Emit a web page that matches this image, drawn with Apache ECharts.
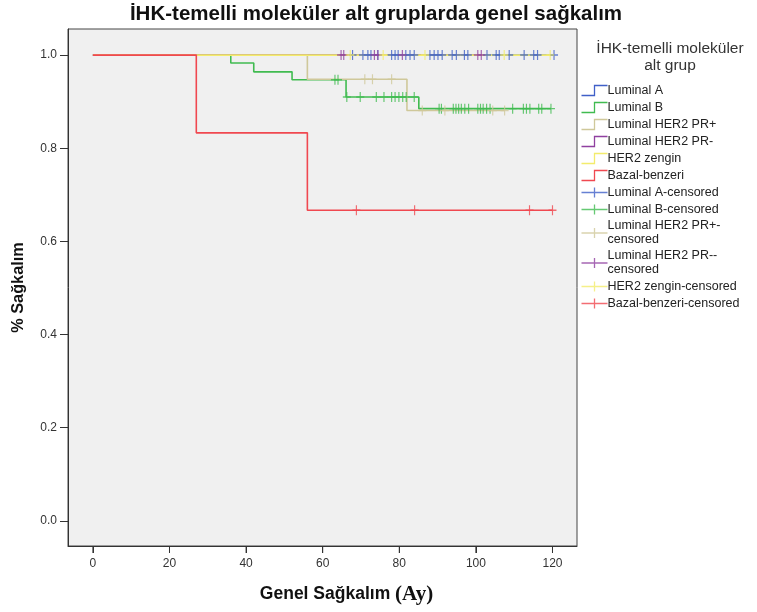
<!DOCTYPE html>
<html>
<head>
<meta charset="utf-8">
<script src="https://cdn.jsdelivr.net/npm/echarts@6/dist/echarts.min.js"></script>
<style>html,body{margin:0;padding:0;background:#fff;}#c{width:757px;height:612px;}</style>
</head>
<body>
<div id="c"></div>
<script>
// ---- data ----
const groups = ['Luminal A','Luminal B','Luminal HER2 PR+','Luminal HER2 PR-','HER2 zengin','Bazal-benzeri'];
const censoredNames = ['Luminal A-censored','Luminal B-censored','Luminal HER2 PR+-\ncensored','Luminal HER2 PR--\ncensored','HER2 zengin-censored','Bazal-benzeri-censored'];
const colors = ['#4060c8','#40bb50','#cfc89a','#9040a0','#f3ec6c','#f04850'];
const xTicks = [0,20,40,60,80,100,120];
const yTicks = [0,0.2,0.4,0.6,0.8,1.0];

// Kaplan-Meier step curves: [time (months), survival]
const curveLumA  = [[0,1],[120.4,1]];
const curveLumB  = [[0,1],[36,0.983],[42,0.964],[52,0.947],[66.1,0.910],[85.1,0.885],[119.6,0.885]];
const curvePRpos = [[0,1],[56,0.948],[82,0.881],[107.5,0.881]];
const curvePRneg = [[0,1],[101.4,1]];
const curveHER2  = [[0,1],[119.4,1]];
const curveBazal = [[0,1],[27,0.833],[56,0.667],[120,0.667]];

// censored times (months)
const censLumA  = [67.8,70.5,71.8,72.6,74.4,78.0,78.9,79.7,81.7,82.8,83.9,88.0,89.1,90.1,91.2,93.8,94.9,97.0,97.9,102.9,105.3,106.1,108.7,112.6,115.1,116.1,120.4];
const censLumB  = [63.2,64.0,66.3,69.8,74.0,76.0,78.0,78.9,79.9,80.9,81.8,83.9,90.4,91.0,94.1,94.8,95.5,96.2,97.1,98.1,100.5,101.2,101.9,102.8,103.7,109.6,112.4,113.2,114.1,116.4,117.2,119.6];
const censPRpos = [71.0,73.0,78.0,86.0,91.9,104.4,107.5];
const censPRneg = [64.8,65.5,73.5,74.4,80.8,100.5,101.4];
const censHER2  = [67.2,75.8,86.7,107.4,119.4];
const censBazal = [68.8,84.0,114.0,120.0];

const curves = [curveLumA,curveLumB,curvePRpos,curvePRneg,curveHER2,curveBazal];
const censored = [censLumA,censLumB,censPRpos,censPRneg,censHER2,censBazal];

const X_MIN = -6.5, X_MAX = 126.4, Y_MIN = -0.054, Y_MAX = 1.056;

function survAt(curve, t){
  let s = curve[0][1];
  for (const p of curve){ if (p[0] <= t) s = p[1]; }
  return s;
}

const stepIcon = 'path://M0,8L13,8L13,1L26,1';
const crossIcon = 'path://M0,5L26,5M13,0L13,10';
const crossSym = 'path://M0,5L10,5M5,0L5,10';
const FONT = 'Liberation Sans, Arial, sans-serif';

const series = [];
groups.forEach((g,i)=>{
  series.push({
    name: g, type: 'line', step: 'end', symbol: 'none', data: curves[i],
    color: colors[i], lineStyle: {width: 1.6, color: colors[i]}, z: 2
  });
});
groups.forEach((g,i)=>{
  series.push({
    name: censoredNames[i], type: 'scatter', symbol: crossSym, symbolSize: [8,10],
    data: censored[i].map(t=>[t, survAt(curves[i], t)]),
    color: colors[i],
    itemStyle: {color: 'none', borderColor: colors[i], borderWidth: 1.3}, z: 3
  });
});
// x-axis tick marks on the bottom frame, placed through the x scale
series.push({
  name: 'xAxisTicks', type: 'custom', clip: false, silent: true, z: 5,
  data: xTicks.map(t => [t, Y_MIN]),
  renderItem: (params, api) => {
    const p = api.coord([api.value(0), api.value(1)]);
    return {type: 'line', shape: {x1: p[0], y1: p[1], x2: p[0], y2: p[1] + 7},
            style: {stroke: '#333', lineWidth: 1}};
  }
});

const legendData = [];
groups.forEach((g,i)=>legendData.push({name:g, icon: stepIcon, itemStyle:{color:'none', borderColor: colors[i], borderWidth: 1.3}}));
censoredNames.forEach((g,i)=>legendData.push({name:g, icon: crossIcon, itemStyle:{color:'none', borderColor: colors[i], borderWidth: 1.3}}));

const chart = echarts.init(document.getElementById('c'), null, {renderer:'canvas'});
chart.setOption({
  animation: false,
  backgroundColor: '#ffffff',
  title: [
    {text: 'İHK-temelli moleküler alt gruplarda genel sağkalım', left: 376, textAlign: 'center', top: 4, padding: 0,
     textStyle: {fontFamily: FONT, fontWeight: 'bold', fontSize: 20.5, color: '#111'}},
    {text: 'İHK-temelli moleküler\nalt grup', left: 670, textAlign: 'center', top: 40, padding: 0,
     textStyle: {fontFamily: FONT, fontWeight: 'normal', fontSize: 15.5, lineHeight: 17, color: '#333'}}
  ],
  legend: {
    orient: 'vertical', left: 579, top: 83, padding: 0, itemWidth: 26, itemHeight: 10, itemGap: 2.0,
    symbolKeepAspect: false, selectedMode: false,
    textStyle: {fontFamily: FONT, fontSize: 12.5, lineHeight: 14, color: '#222', padding: [0,0,0,-5]},
    data: legendData
  },
  grid: {left: 68, right: 180, top: 29, bottom: 66, outerBoundsMode: 'none', containLabel: false,
         show: true, backgroundColor: '#f0f0f0', borderColor: '#444', borderWidth: 1},
  xAxis: {
    type: 'value', min: X_MIN, max: X_MAX, position: 'bottom',
    name: '{a|Genel Sağkalım }{b|(Ay)}', nameLocation: 'middle', nameGap: 38,
    nameTextStyle: {padding: [0,0,0,48], rich: {
      a: {fontFamily: FONT, fontWeight: 'bold', fontSize: 17.5, color: '#111'},
      b: {fontFamily: 'Liberation Serif, Times New Roman, serif', fontWeight: 'bold', fontSize: 21, color: '#111'}
    }},
    axisLine: {show: true, onZero: false, lineStyle: {color: '#333', width: 1}},
    axisTick: {show: true, inside: false, length: 7, lineStyle: {color: '#333', width: 1}, customValues: xTicks},
    axisLabel: {customValues: xTicks, margin: 12, fontSize: 12, color: '#333', fontFamily: FONT},
    splitLine: {show: false}
  },
  yAxis: {
    type: 'value', min: Y_MIN, max: Y_MAX,
    name: '% Sağkalım', nameLocation: 'middle', nameGap: 41, nameRotate: 90,
    nameTextStyle: {fontFamily: FONT, fontWeight: 'bold', fontSize: 16.3, color: '#111'},
    axisLine: {show: true, onZero: false, lineStyle: {color: '#333', width: 1}},
    axisTick: {show: true, inside: false, length: 8, lineStyle: {color: '#333', width: 1}, customValues: yTicks},
    axisLabel: {customValues: yTicks, margin: 11, fontSize: 12, color: '#333', fontFamily: FONT,
      formatter: v => v.toFixed(1)},
    splitLine: {show: false}
  },
  series: series
});
</script>
</body>
</html>
